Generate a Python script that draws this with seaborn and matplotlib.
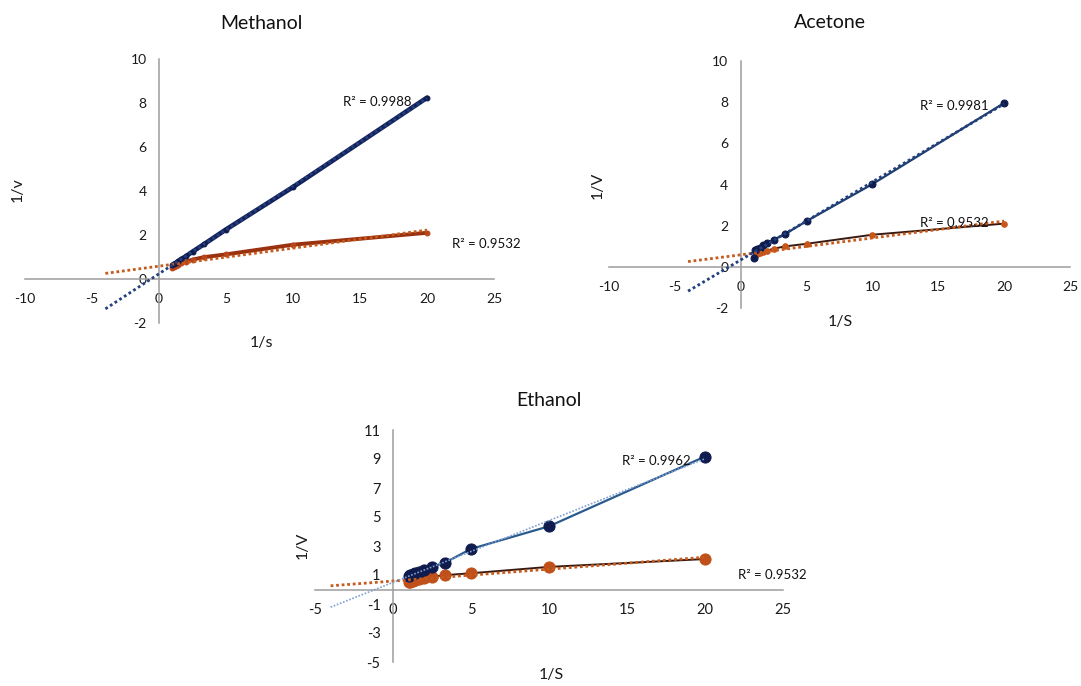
import numpy as np
import pandas as pd
import matplotlib
matplotlib.use("Agg")
import matplotlib.pyplot as plt
import seaborn as sns

# ---------------- data ----------------
inv_s = [1, 1.11, 1.25, 1.43, 1.67, 2, 2.5, 3.33, 5, 10, 20]

# control series (orange, identical in all three panels, R² = 0.9532)
control_inv_v = [0.50, 0.55, 0.60, 0.65, 0.72, 0.79, 0.88, 0.99, 1.12, 1.56, 2.10]

methanol_inv_v = [0.64, 0.69, 0.74, 0.81, 0.91, 1.03, 1.24, 1.57, 2.25, 4.18, 8.24]
acetone_inv_v = [0.45, 0.82, 0.88, 0.92, 1.05, 1.15, 1.32, 1.58, 2.22, 4.02, 7.96]
ethanol_inv_v = [0.90, 1.00, 1.05, 1.12, 1.22, 1.35, 1.57, 1.85, 2.80, 4.36, 9.17]

titles = ["Methanol", "Acetone", "Ethanol"]
xlabels = ["1/s", "1/S", "1/S"]
ylabels = ["1/v", "1/V", "1/V"]
r2_inhib = ["R² = 0.9988", "R² = 0.9981", "R² = 0.9962"]
r2_control = "R² = 0.9532"

# ---------------- style ----------------
sns.set_style("white")
plt.rcParams["font.family"] = ["Lato", "DejaVu Sans"]

W, H = 1081, 686
fig = plt.figure(figsize=(W / 100, H / 100), dpi=100)

def fig_rect(l, r, t, b):
    return [l / W, 1 - b / H, (r - l) / W, (b - t) / H]

panels = [
    dict(rect=fig_rect(25, 494, 59, 323), xlim=(-10, 25), ylim=(-2, 10),
         yticks=np.arange(-2, 11, 2), xticks=np.arange(-10, 26, 5),
         data=methanol_inv_v, tick_fs=10,
         blue_line="#14225c", blue_lw=3.4, blue_ms=3.5, blue_mc="#0e1a4d",
         blue_trend="#23407e", blue_trend_lw=2.0,
         org_line="#9a3210", org_lw=2.8, org_ms=3.5, org_mc="#b9461a",
         title_xy=(0.505, 1.136), xl_xy=(0.505, -0.076), yl_xy=(-0.015, 0.504),
         r2b=(16.3, 8.05), r2o=(24.4, 1.58)),
    dict(rect=fig_rect(609, 1070, 61, 308), xlim=(-10, 25), ylim=(-2, 10),
         yticks=np.arange(-2, 11, 2), xticks=np.arange(-10, 26, 5),
         data=acetone_inv_v, tick_fs=10,
         blue_line="#1f3f6e", blue_lw=1.6, blue_ms=5, blue_mc="#101c4e",
         blue_trend="#23407e", blue_trend_lw=2.0,
         org_line="#3a1a10", org_lw=1.4, org_ms=4, org_mc="#c8561a",
         title_xy=(0.479, 1.154), xl_xy=(0.501, -0.057), yl_xy=(-0.024, 0.498),
         r2b=(16.2, 7.82), r2o=(16.2, 2.14)),
    dict(rect=fig_rect(315, 783, 430, 662), xlim=(-5, 25), ylim=(-5, 11),
         yticks=np.arange(-5, 12, 2), xticks=np.arange(-5, 26, 5),
         data=ethanol_inv_v, tick_fs=10.5,
         blue_line="#2b5a8c", blue_lw=1.6, blue_ms=8, blue_mc="#101c4e",
         blue_trend="#7f9fd3", blue_trend_lw=1.2,
         org_line="#3a1a10", org_lw=1.4, org_ms=8, org_mc="#c0501a",
         title_xy=(0.5, 1.129), xl_xy=(0.504, -0.056), yl_xy=(-0.026, 0.504),
         r2b=(16.85, 8.83), r2o=(24.3, 1.03)),
]

x = np.array(inv_s)
yc = np.array(control_inv_v)
trend_x = np.array([x.min() - 5, x.max()])

for i, p in enumerate(panels):
    ax = fig.add_axes(p["rect"])
    yb = np.array(p["data"])

    # data series
    sns.lineplot(x=x, y=yc, ax=ax, color=p["org_line"], lw=p["org_lw"],
                 marker="o", markersize=p["org_ms"], markerfacecolor=p["org_mc"],
                 markeredgecolor=p["org_mc"], estimator=None, sort=False, zorder=3)
    sns.lineplot(x=x, y=yb, ax=ax, color=p["blue_line"], lw=p["blue_lw"],
                 marker="o", markersize=p["blue_ms"], markerfacecolor=p["blue_mc"],
                 markeredgecolor=p["blue_mc"], estimator=None, sort=False, zorder=4)

    # linear trendlines with backward forecast
    cb = np.polyfit(x, yb, 1)
    co = np.polyfit(x, yc, 1)
    sns.lineplot(x=trend_x, y=np.polyval(co, trend_x), ax=ax, color="#c55a1c",
                 lw=2.0, linestyle=(0, (1, 1)), zorder=5)
    sns.lineplot(x=trend_x, y=np.polyval(cb, trend_x), ax=ax, color=p["blue_trend"],
                 lw=p["blue_trend_lw"], linestyle=(0, (1, 1)), zorder=5)

    ax.set_xlim(*p["xlim"])
    ax.set_ylim(*p["ylim"])
    ax.set_xticks(p["xticks"])
    ax.set_yticks(p["yticks"])
    ax.set_xticklabels([str(v) for v in p["xticks"]], fontweight="semibold")
    ax.set_yticklabels([str(v) for v in p["yticks"]], fontweight="semibold")

    for s in ["top", "right"]:
        ax.spines[s].set_visible(False)
    ax.spines["left"].set_position(("data", 0))
    ax.spines["bottom"].set_position(("data", 0))
    for s in ["left", "bottom"]:
        ax.spines[s].set_color("#9c9c9c")
        ax.spines[s].set_linewidth(1.1)
    ax.tick_params(axis="both", length=0, labelsize=p["tick_fs"], colors="#1a1a1a")
    ax.tick_params(axis="x", pad=10)
    ax.tick_params(axis="y", pad=9)
    ax.set_facecolor("none")
    ax.set_xlabel("")
    ax.set_ylabel("")

    ax.text(*p["title_xy"], titles[i], transform=ax.transAxes, ha="center",
            va="center", fontsize=14, color="#111111")
    ax.text(*p["xl_xy"], xlabels[i], transform=ax.transAxes, ha="center",
            va="center", fontsize=11.5, color="#1a1a1a")
    ax.text(*p["yl_xy"], ylabels[i], transform=ax.transAxes, ha="center",
            va="center", rotation=90, fontsize=11.5, color="#1a1a1a")

    ax.text(*p["r2b"], r2_inhib[i], ha="center", va="center", fontsize=9.5,
            color="#111111", clip_on=False, zorder=6)
    ax.text(*p["r2o"], r2_control, ha="center", va="center", fontsize=9.5,
            color="#111111", clip_on=False, zorder=6)

fig.savefig("out.png", dpi=100, facecolor="white")
